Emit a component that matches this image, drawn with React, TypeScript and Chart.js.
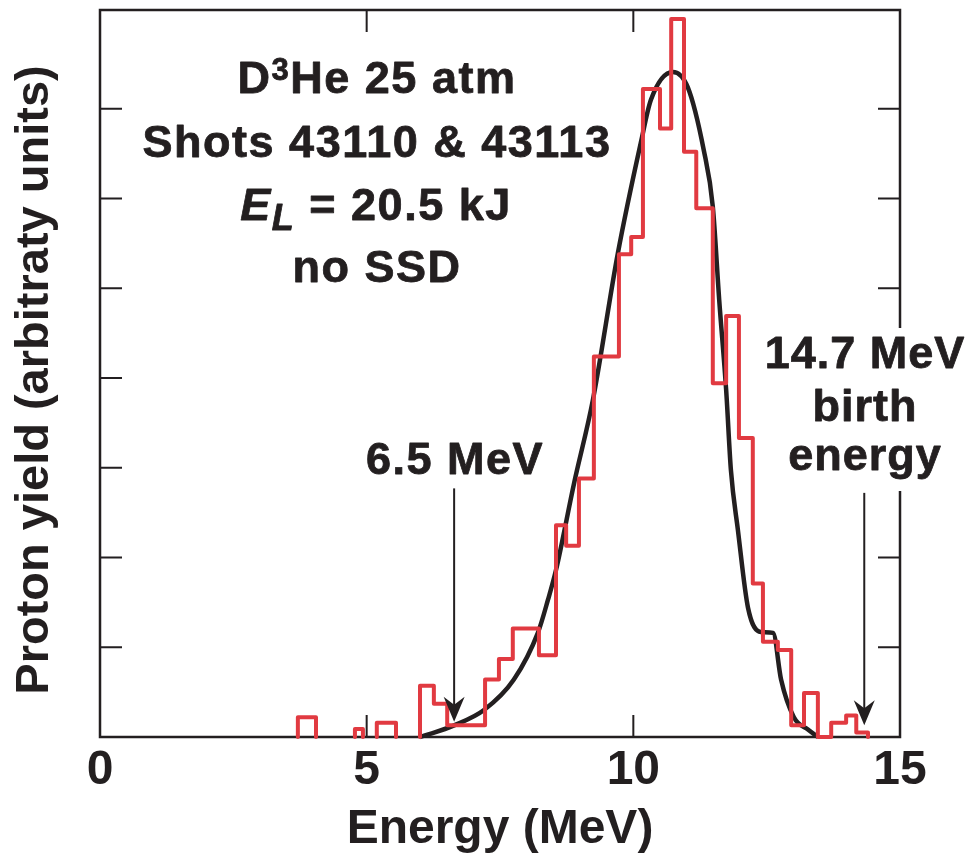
import React, { useEffect, useRef } from 'react';
import { Chart, registerables } from 'chart.js';

Chart.register(...registerables);

const FONT = '"Liberation Sans", Arial, Helvetica, sans-serif';
const INK = '#231f20';
const RED = '#e13a41';

// Histogram (red): bin edges in MeV and level per bin (null = empty gap)
const histEdges = [
  3.71, 4.05, 4.78, 4.93, 5.19, 5.55, 6.0, 6.26, 6.51, 7.22, 7.48, 7.74, 8.23,
  8.55, 8.74, 8.98, 9.26, 9.73, 9.96, 10.18, 10.5, 10.71, 10.95, 11.18, 11.49,
  11.74, 11.98, 12.24, 12.43, 12.71, 12.96, 13.2, 13.46, 13.71, 13.99, 14.18, 14.4,
];
const histCounts: (number | null)[] = [
  0.22, null, 0.09, null, 0.16, null, 0.57, 0.37, 0.13, 0.64, 0.87, 1.21, 0.91,
  2.36, 2.13, 2.88, 4.24, 5.38, 5.57, 7.22, 6.78, 8.0, 6.52, 5.89, 3.94, 4.69,
  3.33, 1.71, 1.06, 0.97, 0.13, 0.49, 0.0, 0.16, 0.24, 0.05,
];

// Fit curve (black)
const fitEnergy = [
  6.0, 6.11, 6.64, 7.2, 7.76, 8.21, 8.4, 8.55, 8.89, 9.24, 9.71, 10.14, 10.33,
  10.74, 11.02, 11.32, 11.49, 11.61, 11.74, 11.83, 11.96, 12.15, 12.39, 12.62,
  12.77, 13.01, 13.28, 13.46,
];
const fitYield = [
  0.0, 0.02, 0.13, 0.3, 0.64, 1.16, 1.53, 1.86, 2.83, 3.75, 5.39, 6.62, 7.1,
  7.41, 7.24, 6.54, 5.91, 4.87, 3.87, 2.97, 2.31, 1.44, 1.17, 1.16, 0.64, 0.22,
  0.08, 0.0,
];

const xTickValues = [5, 10];
const yTickValues = [1, 2, 3, 4, 5, 6, 7];
const yTitle = 'Proton yield (arbitraty units)';
const xTitle = 'Energy (MeV)';

// Arrows (energy, start yield, tip yield)
const arrowEnergy = [6.64, 14.33];
const arrowStart = [2.77, 2.72];
const arrowTip = [0.17, 0.13];

type Run = { text: string; font: string; dy?: number; ls?: string };

function drawRuns(ctx: CanvasRenderingContext2D, runs: Run[], cx: number, baseline: number) {
  const widths: number[] = [];
  let total = 0;
  for (const r of runs) {
    ctx.font = r.font;
    (ctx as any).letterSpacing = r.ls ?? '1.5px';
    const w = ctx.measureText(r.text).width;
    widths.push(w);
    total += w;
  }
  let x = cx - total / 2;
  ctx.lineWidth = 0.8;
  ctx.lineJoin = 'round';
  runs.forEach((r, i) => {
    ctx.font = r.font;
    (ctx as any).letterSpacing = r.ls ?? '1.5px';
    ctx.textAlign = 'left';
    ctx.textBaseline = 'alphabetic';
    ctx.fillText(r.text, x, baseline + (r.dy ?? 0));
    ctx.strokeText(r.text, x, baseline + (r.dy ?? 0));
    x += widths[i];
  });
  (ctx as any).letterSpacing = '0px';
}

const B45 = `bold 45px ${FONT}`;

const framePlugin = {
  id: 'frameAndNotes',
  beforeDatasetsDraw(chart: any) {
    const { ctx, chartArea: a, scales } = chart;
    ctx.save();
    ctx.strokeStyle = INK;
    ctx.lineWidth = 2.5;
    ctx.strokeRect(a.left, a.top, a.right - a.left, a.bottom - a.top);
    ctx.lineWidth = 2;
    ctx.beginPath();
    for (const v of yTickValues) {
      const y = scales.y.getPixelForValue(v);
      ctx.moveTo(a.left, y);
      ctx.lineTo(a.left + 22, y);
      ctx.moveTo(a.right, y);
      ctx.lineTo(a.right - 22, y);
    }
    for (const v of xTickValues) {
      const x = scales.x.getPixelForValue(v);
      ctx.moveTo(x, a.bottom);
      ctx.lineTo(x, a.bottom - 22);
      ctx.moveTo(x, a.top);
      ctx.lineTo(x, a.top + 22);
    }
    ctx.stroke();

    // y axis title
    ctx.fillStyle = INK;
    ctx.font = `bold 47px ${FONT}`;
    ctx.textAlign = 'center';
    ctx.textBaseline = 'alphabetic';
    ctx.translate(48, 380);
    ctx.rotate(-Math.PI / 2);
    ctx.fillText(yTitle, 0, 0);
    ctx.restore();
  },
  afterDatasetsDraw(chart: any) {
    const { ctx, scales } = chart;
    ctx.save();
    // white knock-out behind the birth-energy label
    ctx.fillStyle = '#ffffff';
    ctx.fillRect(786, 328, 184, 163);
    // arrows
    ctx.strokeStyle = INK;
    ctx.fillStyle = INK;
    arrowEnergy.forEach((e, i) => {
      const x = scales.x.getPixelForValue(e);
      const y0 = scales.y.getPixelForValue(arrowStart[i]);
      const y1 = scales.y.getPixelForValue(arrowTip[i]);
      ctx.lineWidth = 2;
      ctx.beginPath();
      ctx.moveTo(x, y0);
      ctx.lineTo(x, y1 - 10);
      ctx.stroke();
      ctx.beginPath();
      ctx.moveTo(x, y1);
      ctx.lineTo(x - 10.5, y1 - 25);
      ctx.lineTo(x, y1 - 17);
      ctx.lineTo(x + 10.5, y1 - 25);
      ctx.closePath();
      ctx.fill();
    });
    // texts
    ctx.fillStyle = INK;
    ctx.strokeStyle = INK;
    drawRuns(ctx, [
      { text: 'D', font: B45 },
      { text: '3', font: `bold 31px ${FONT}`, dy: -13 },
      { text: 'He 25 atm', font: B45 },
    ], 377, 93);
    drawRuns(ctx, [{ text: 'Shots 43110 & 43113', font: B45 }], 377, 157);
    drawRuns(ctx, [
      { text: 'E', font: `italic bold 45px ${FONT}` },
      { text: 'L', font: `italic bold 36px ${FONT}`, dy: 10 },
      { text: ' = 20.5 kJ', font: B45 },
    ], 376, 220);
    drawRuns(ctx, [{ text: 'no SSD', font: B45 }], 377, 282);
    drawRuns(ctx, [{ text: '6.5 MeV', font: B45 }], 455, 474);
    drawRuns(ctx, [{ text: '14.7 MeV', font: B45, ls: '1px' }], 865, 368);
    drawRuns(ctx, [{ text: 'birth', font: B45, ls: '1px' }], 865, 421);
    drawRuns(ctx, [{ text: 'energy', font: B45, ls: '1px' }], 865, 470);
    ctx.restore();
  },
};

function buildHistogram() {
  const pts: { x: number; y: number | null }[] = [];
  for (let i = 0; i < histCounts.length; i++) {
    const c = histCounts[i];
    if (c === null) continue;
    const prevEmpty = i === 0 || histCounts[i - 1] === null;
    if (prevEmpty) pts.push({ x: histEdges[i], y: 0 });
    pts.push({ x: histEdges[i], y: c });
    const nextEmpty = i === histCounts.length - 1 || histCounts[i + 1] === null;
    if (nextEmpty) {
      pts.push({ x: histEdges[i + 1], y: 0 });
      pts.push({ x: histEdges[i + 1], y: null });
    }
  }
  return pts;
}

export default function App() {
  const ref = useRef<HTMLCanvasElement>(null);
  useEffect(() => {
    if (!ref.current) return;
    const titleFont = { family: FONT, size: 48, weight: 'bold' as const };
    const chart = new Chart(ref.current, {
      type: 'line',
      data: {
        datasets: [
          {
            label: 'Histogram',
            data: buildHistogram() as any,
            borderColor: RED,
            borderWidth: 4,
            stepped: 'before',
            pointRadius: 0,
            spanGaps: false,
            borderJoinStyle: 'round',
            borderCapStyle: 'round',
            fill: false,
            clip: false as any,
          },
          {
            label: 'Fit',
            data: fitEnergy.map((e, i) => ({ x: e, y: fitYield[i] })),
            borderColor: INK,
            borderWidth: 4.5,
            pointRadius: 0,
            cubicInterpolationMode: 'monotone',
            fill: false,
            clip: false as any,
          },
        ],
      },
      options: {
        animation: false,
        responsive: false,
        maintainAspectRatio: false,
        layout: { padding: { left: 0, right: 70, top: 10, bottom: 0 } },
        plugins: { legend: { display: false }, tooltip: { enabled: false } },
        scales: {
          x: {
            type: 'linear',
            min: 0,
            max: 15,
            ticks: {
              stepSize: 5,
              font: titleFont,
              color: INK,
              padding: 5,
              maxRotation: 0,
              autoSkip: false,
            },
            grid: { display: false, drawTicks: false },
            border: { display: false },
            title: {
              display: true,
              text: xTitle,
              font: titleFont,
              color: INK,
              padding: { top: 0, bottom: 0 },
            },
            afterFit: (s: any) => {
              s.height = 122;
            },
          },
          y: {
            type: 'linear',
            min: 0,
            max: 8.1,
            ticks: { display: false },
            grid: { display: false, drawTicks: false },
            border: { display: false },
            title: { display: false },
            afterFit: (s: any) => {
              s.width = 100;
            },
          },
        },
      },
      plugins: [framePlugin],
    });
    return () => chart.destroy();
  }, []);
  return (
    <div style={{ position: 'absolute', left: 0, top: 0, width: 970, height: 859, background: '#fff' }}>
      <canvas ref={ref} width={970} height={859} style={{ display: 'block' }} />
    </div>
  );
}
